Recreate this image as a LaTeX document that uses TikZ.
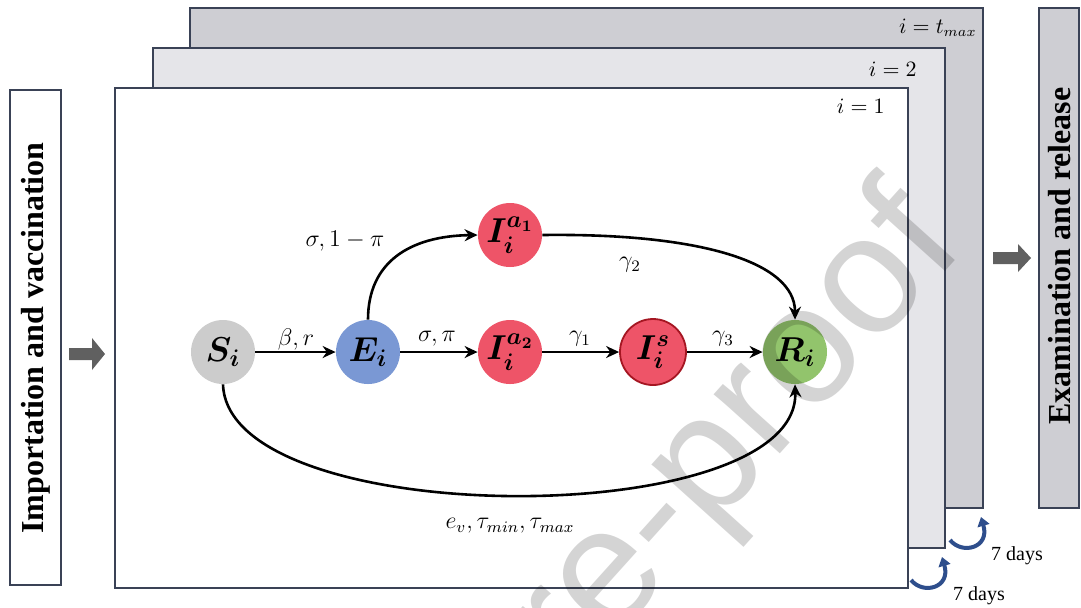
\documentclass[tikz,border=0pt]{standalone}
\usepackage{fontspec}
\setmainfont{Liberation Serif}
\newfontfamily\wmfont{Liberation Sans}
\usepackage{amsmath,bm}
\usetikzlibrary{arrows.meta}
\definecolor{framec}{RGB}{58,66,86}
\definecolor{backA}{RGB}{206,206,211}
\definecolor{backB}{RGB}{229,229,233}
\definecolor{sfill}{RGB}{204,204,204}
\definecolor{efill}{RGB}{122,152,212}
\definecolor{ifill}{RGB}{238,84,104}
\definecolor{idraw}{RGB}{165,22,34}
\definecolor{rfill}{RGB}{146,196,108}
\definecolor{blockc}{RGB}{96,96,96}
\definecolor{curlc}{RGB}{46,78,140}
\tikzset{
  frame/.style={draw=framec, line width=1pt},
  comp/.style={circle, minimum size=32pt, inner sep=0pt, font=\fontsize{17}{17}\selectfont},
  flow/.style={-{Stealth[length=6.5pt,width=6pt]}, line width=1.3pt, black},
  lab/.style={font=\fontsize{12}{12}\selectfont, inner sep=1pt},
  idx/.style={font=\fontsize{10.5}{10.5}\selectfont, anchor=base east, inner sep=0pt},
  side/.style={rotate=90, font=\fontsize{16}{16}\selectfont\bfseries},
  block/.style={fill=blockc},
  curl/.style={curlc, line width=2pt, -{Triangle[length=4.5pt,width=6pt]}},
  days/.style={font=\fontsize{10}{10}\selectfont, inner sep=0pt},
}
\begin{document}
\begin{tikzpicture}[x=0.5pt,y=-0.5pt]
\useasboundingbox (0,0) rectangle (1081,607);
\fill[white] (0,0) rectangle (1081,607);

% stacked boxes
\draw[frame, fill=backA] (190,8) rectangle (983,508);
\draw[frame, fill=backB] (153,48) rectangle (945,548);
\draw[frame, fill=white] (115,88) rectangle (908,588);
\node[idx] (tmax) at (977,33) {$i = t_{max}$};
\node[idx] (two) at (917,76) {$i = 2$};
\node[idx] (one) at (885,113) {$i = 1$};

% side boxes
\draw[frame, fill=white] (10,90) rectangle (61,585);
\node[side] (imp) at (36,338) {Importation and vaccination};
\draw[frame, fill=backA] (1039,8) rectangle (1079,508);
\node[side] (exa) at (1060,256) {Examination and release};

% block arrows
\fill[block] (69,348) -- (92,348) -- (92,338) -- (105,354) -- (92,370) -- (92,360) -- (69,360) -- cycle;
\fill[block] (993,252) -- (1018,252) -- (1018,244) -- (1031,258) -- (1018,272) -- (1018,264) -- (993,264) -- cycle;

% compartments
\node[comp, fill=sfill] (S) at (223,352) {$\bm{S_i}$};
\node[comp, fill=efill] (E) at (368,352) {$\bm{E_i}$};
\node[comp, fill=ifill] (Ia1) at (510,235) {$\bm{I_i^{a_1}}$};
\node[comp, fill=ifill] (Ia2) at (510,352) {$\bm{I_i^{a_2}}$};
\node[comp, fill=ifill, draw=idraw, line width=0.9pt, minimum size=33pt] (Is) at (653,352) {$\bm{I_i^{s}}$};
\node[comp, fill=rfill] (R) at (795,352) {$\bm{R_i}$};

% flows
\draw[flow] (S) -- (E);
\draw[flow] (E) -- (Ia2);
\draw[flow] (Ia2) -- (Is);
\draw[flow] (Is) -- (R);
\draw[flow] (E.north) .. controls (368,262) and (410,236) .. (Ia1.west);
\draw[flow] (Ia1.east) .. controls (700,233) and (795,262) .. (R.north);
\draw[flow] (S.south) .. controls (228,532) and (800,532) .. (R.south);

% flow labels
\node[lab] (lbr) at (296,339) {$\beta, r$};
\node[lab] (lsp) at (437,339) {$\sigma, \pi$};
\node[lab] (lg1) at (580,339) {$\gamma_1$};
\node[lab] (lg3) at (723,339) {$\gamma_3$};
\node[lab] (lsp1) at (345,241) {$\sigma, 1 - \pi$};
\node[lab] (lg2) at (630,265) {$\gamma_2$};
\node[lab] (lev) at (510,526) {$e_v, \tau_{min}, \tau_{max}$};

% 7 days
\coordinate (c1a) at (950,540);
\coordinate (c1b) at (981,517);
\draw[curl] (c1a) .. controls (962,555) and (990,548) .. (c1b);
\node[days] (d1) at (1017,556) {7 days};
\coordinate (c2a) at (911,580);
\coordinate (c2b) at (942,557);
\draw[curl] (c2a) .. controls (923,595) and (951,588) .. (c2b);
\node[days] (d2) at (979,596) {7 days};

% watermark
\node[rotate=48, anchor=base east, font=\wmfont\fontsize{84}{84}\selectfont, text=black, opacity=0.17, inner sep=0pt] (wm) at (967,247) {Journal Pre-proof};
\end{tikzpicture}
\end{document}
